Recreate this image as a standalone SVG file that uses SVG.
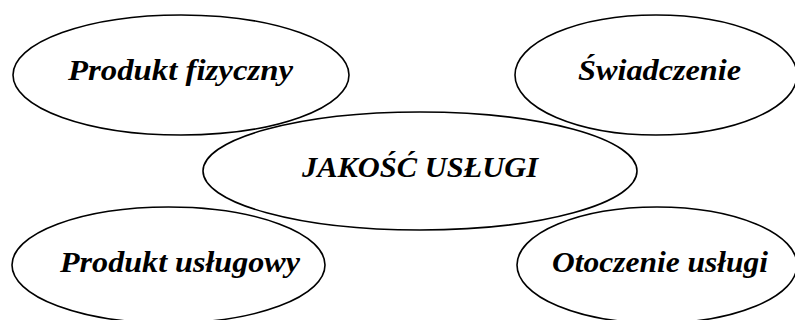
<svg xmlns="http://www.w3.org/2000/svg" width="795" height="320" viewBox="0 0 795 320">
  <style>
    .shape { fill: none; stroke: #000; stroke-width: 1.6; }
    .label { font-family: "Liberation Serif", "DejaVu Serif", serif; font-style: italic; font-weight: bold; font-size: 30px; fill: #000; text-anchor: middle; }
  </style>
  <rect width="795" height="320" fill="#fff"/>
  <g id="connectors"></g>
  <g id="node-produkt-fizyczny">
    <ellipse class="shape" cx="181" cy="75" rx="168" ry="60"/>
    <text class="label" x="180.5" y="80" textLength="225" lengthAdjust="spacingAndGlyphs">Produkt fizyczny</text>
  </g>
  <g id="node-swiadczenie">
    <ellipse class="shape" cx="656" cy="75" rx="141" ry="60"/>
    <text class="label" x="659.5" y="80" textLength="163" lengthAdjust="spacingAndGlyphs">Świadczenie</text>
  </g>
  <g id="node-jakosc-uslugi">
    <ellipse class="shape" cx="420" cy="171" rx="217" ry="59"/>
    <text class="label" x="420" y="177" textLength="236" lengthAdjust="spacingAndGlyphs">JAKOŚĆ USŁUGI</text>
  </g>
  <g id="node-produkt-uslugowy">
    <ellipse class="shape" cx="168.5" cy="265" rx="156.5" ry="58"/>
    <text class="label" x="180" y="272" textLength="240" lengthAdjust="spacingAndGlyphs">Produkt usługowy</text>
  </g>
  <g id="node-otoczenie-uslugi">
    <ellipse class="shape" cx="657" cy="265" rx="140" ry="58"/>
    <text class="label" x="660" y="272" textLength="216" lengthAdjust="spacingAndGlyphs">Otoczenie usługi</text>
  </g>
</svg>
